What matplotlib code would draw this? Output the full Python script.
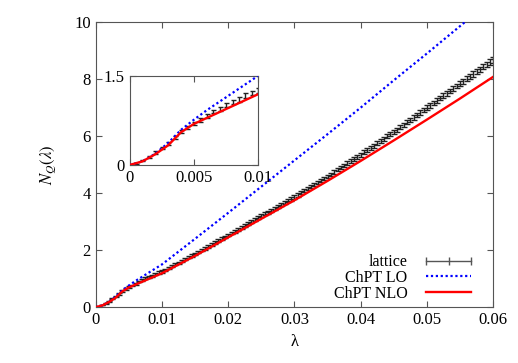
import numpy as np
import matplotlib.pyplot as plt
from matplotlib.lines import Line2D

plt.rcParams['font.family'] = ['Liberation Serif', 'DejaVu Serif']
plt.rcParams['mathtext.fontset'] = 'stix'
plt.rcParams['font.size'] = 12

# lattice data, lambda step 0.0005
lam_lat = np.arange(1, 121) * 0.0005
n_lat = [0.01, 0.07, 0.13, 0.21, 0.29, 0.36, 0.46, 0.56, 0.63, 0.70,
         0.76, 0.82, 0.90, 0.94, 1.01, 1.06, 1.10, 1.17, 1.21, 1.25,
         1.31, 1.37, 1.44, 1.50, 1.56, 1.62, 1.68, 1.75, 1.81, 1.87,
         1.93, 2.00, 2.07, 2.13, 2.20, 2.27, 2.33, 2.40, 2.46, 2.53,
         2.60, 2.66, 2.73, 2.80, 2.86, 2.93, 3.00, 3.07, 3.13, 3.20,
         3.27, 3.33, 3.40, 3.47, 3.53, 3.60, 3.67, 3.74, 3.80, 3.87,
         3.94, 4.02, 4.09, 4.16, 4.23, 4.30, 4.37, 4.44, 4.52, 4.59,
         4.66, 4.74, 4.82, 4.89, 4.97, 5.05, 5.12, 5.20, 5.27, 5.35,
         5.43, 5.51, 5.59, 5.67, 5.75, 5.83, 5.91, 5.99, 6.07, 6.15,
         6.23, 6.32, 6.40, 6.49, 6.57, 6.66, 6.74, 6.83, 6.91, 7.00,
         7.08, 7.17, 7.25, 7.34, 7.42, 7.50, 7.59, 7.67, 7.76, 7.84,
         7.92, 8.01, 8.09, 8.18, 8.26, 8.35, 8.43, 8.51, 8.60, 8.68]
err_lat = [0.01, 0.01, 0.02, 0.02, 0.02, 0.02, 0.02, 0.03, 0.03, 0.03,
           0.03, 0.03, 0.03, 0.03, 0.03, 0.03, 0.04, 0.04, 0.04, 0.04,
           0.04, 0.04, 0.04, 0.04, 0.04, 0.04, 0.04, 0.04, 0.04, 0.04,
           0.04, 0.04, 0.05, 0.05, 0.05, 0.05, 0.05, 0.05, 0.05, 0.05,
           0.05, 0.05, 0.05, 0.05, 0.05, 0.05, 0.05, 0.05, 0.05, 0.05,
           0.05, 0.05, 0.05, 0.05, 0.05, 0.05, 0.06, 0.06, 0.06, 0.06,
           0.06, 0.06, 0.06, 0.06, 0.06, 0.06, 0.06, 0.06, 0.06, 0.06,
           0.06, 0.06, 0.06, 0.06, 0.06, 0.07, 0.07, 0.07, 0.07, 0.07,
           0.07, 0.07, 0.07, 0.07, 0.07, 0.07, 0.07, 0.07, 0.07, 0.07,
           0.07, 0.07, 0.07, 0.08, 0.08, 0.08, 0.08, 0.08, 0.08, 0.08,
           0.08, 0.08, 0.08, 0.08, 0.08, 0.08, 0.08, 0.08, 0.08, 0.09,
           0.09, 0.09, 0.09, 0.09, 0.09, 0.09, 0.09, 0.10, 0.10, 0.10]

# ChPT curves
lam_th = [0, 0.001, 0.002, 0.003, 0.004, 0.005, 0.006, 0.008, 0.01,
          0.015, 0.02, 0.025, 0.03, 0.035, 0.04, 0.045, 0.05, 0.055, 0.06]
n_lo = [0, 0.06, 0.19, 0.37, 0.59, 0.76, 0.92, 1.21, 1.50,
        2.40, 3.31, 4.23, 5.15, 6.07, 7.00, 7.96, 8.90, 9.86, 10.82]
n_nlo = [0, 0.06, 0.18, 0.33, 0.55, 0.69, 0.79, 0.99, 1.19,
         1.80, 2.45, 3.10, 3.75, 4.43, 5.13, 5.85, 6.58, 7.32, 8.08]

fig = plt.figure(figsize=(5.18, 3.63), dpi=100)
ax = fig.add_axes([0.185, 0.154, 0.767, 0.785])

def draw(a, cap):
    a.errorbar(lam_lat, n_lat, yerr=err_lat, fmt='none', ecolor='#222222',
               elinewidth=1.0, capsize=cap, capthick=1.0, zorder=2)
    a.plot(lam_th, n_lo, color='#0000ff', ls=(0, (1, 1.2)), lw=1.6, zorder=3)
    a.plot(lam_th, n_nlo, color='#ff0000', lw=1.7, zorder=4)

draw(ax, 2.2)
ax.set_xlim(0, 0.06)
ax.set_ylim(0, 10)
ax.set_xticks([0, 0.01, 0.02, 0.03, 0.04, 0.05, 0.06])
ax.set_xticklabels(['0', '0.01', '0.02', '0.03', '0.04', '0.05', '0.06'])
ax.set_yticks([0, 2, 4, 6, 8, 10])
ax.tick_params(direction='in', top=True, right=True, length=4, color='#555555')
for s in ax.spines.values():
    s.set_color('#555555')
ax.set_xlabel('λ', labelpad=4)
ax.set_ylabel(r'$N_Q(\lambda)$', labelpad=12)

handles = [Line2D([], [], color='#555555', lw=1, marker='|', ms=6),
           Line2D([], [], color='#0000ff', ls=(0, (1, 1.2)), lw=1.6),
           Line2D([], [], color='#ff0000', lw=1.7)]
ax.legend(handles, ['lattice', 'ChPT LO', 'ChPT NLO'], loc='lower right',
          bbox_to_anchor=(0.985, -0.02), frameon=False, markerfirst=False,
          numpoints=3, handlelength=3.4, labelspacing=-0.02, handletextpad=0.9,
          borderaxespad=0.3, fontsize=11.5)

ins = fig.add_axes([0.25, 0.5455, 0.2486, 0.246])
draw(ins, 1.8)
ins.set_xlim(0, 0.01)
ins.set_ylim(0, 1.5)
ins.set_xticks([0, 0.005, 0.01])
ins.set_xticklabels(['0', '0.005', '0.01'])
ins.set_yticks([0, 1.5])
ins.set_yticklabels(['0', '1.5'])
ins.tick_params(direction='in', top=True, right=True, length=4, color='#555555')
for s in ins.spines.values():
    s.set_color('#555555')

fig.savefig('out.png', dpi=100)
